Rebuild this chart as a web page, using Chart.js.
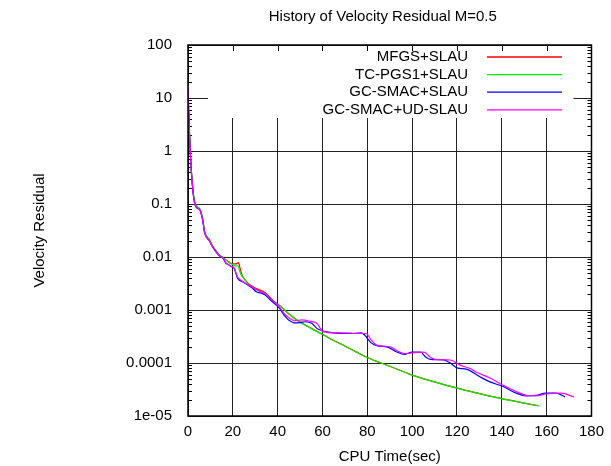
<!DOCTYPE html>
<html>
<head>
<meta charset="utf-8">
<script src="https://cdn.jsdelivr.net/npm/chart.js@4"></script>
<style>
  body { margin: 0; background: #fff; }
</style>
</head>
<body>
<canvas id="residualChart" width="611" height="466"></canvas>

<script>
  // values: CPU time (sec) and velocity residual per scheme
  const mfgsTime = [0, 0.3, 0.7, 1, 1.8, 3, 4.4, 5.2, 5.9, 6.6, 7.4, 9.6, 11, 14, 16, 18, 19.9, 21.5, 22.5, 23.5, 24.3, 27.2, 30, 34.6, 38, 41.9, 45, 49.3, 55, 60.4, 65, 69.9, 75, 80.2, 90, 100, 110, 120, 130, 140, 150, 156];
  const mfgsResidual = [17, 6, 2, 1, 0.28, 0.105, 0.085, 0.08, 0.067, 0.05, 0.03, 0.021, 0.016, 0.011, 0.0095, 0.0082, 0.0074, 0.0074, 0.0078, 0.0055, 0.0044, 0.0031, 0.0026, 0.0021, 0.0015, 0.00112, 0.00085, 0.00062, 0.00045, 0.00034, 0.000265, 0.00021, 0.000162, 0.000126, 0.000087, 0.000059, 0.000044, 0.0000335, 0.0000265, 0.0000212, 0.0000175, 0.0000157];

  const pgsTime = [0, 0.3, 0.7, 1, 1.8, 3, 4.4, 5.2, 5.9, 6.6, 7.4, 9.6, 11, 14, 16, 18, 19.9, 21, 22.1, 23.6, 25, 27.2, 30, 34.6, 38, 41.9, 45, 49.3, 55, 60.4, 65, 69.9, 75, 80.2, 90, 100, 110, 120, 130, 140, 150, 156.5];
  const pgsResidual = [18, 6.5, 2.1, 1.05, 0.29, 0.108, 0.088, 0.082, 0.069, 0.052, 0.031, 0.021, 0.016, 0.0108, 0.0093, 0.008, 0.0072, 0.0068, 0.0068, 0.0047, 0.0039, 0.003, 0.0025, 0.002, 0.00145, 0.0011, 0.00084, 0.00061, 0.00045, 0.00034, 0.000265, 0.00021, 0.000162, 0.000126, 0.000087, 0.000059, 0.000044, 0.0000335, 0.0000265, 0.0000212, 0.0000175, 0.0000155];

  const smacTime = [0, 0.3, 0.7, 1, 1.8, 3, 4.4, 5.2, 5.9, 6.6, 7.4, 9.6, 11, 14, 15.5, 16.9, 18, 19.2, 20.6, 22.1, 24.3, 26, 28.7, 30.5, 32.4, 34.6, 37, 40.5, 43, 44.9, 47.9, 50, 52.3, 55.2, 57.5, 59.6, 65, 69.9, 74, 77.3, 79, 81.7, 84.6, 89, 93.4, 96.4, 100, 103.8, 106, 108.2, 114, 117, 120, 124.4, 130.2, 134.7, 140.6, 146.4, 150.9, 155.3, 159.7, 164.1, 168.2];
  const smacResidual = [15, 5.5, 1.9, 0.95, 0.27, 0.1, 0.082, 0.078, 0.065, 0.048, 0.029, 0.02, 0.0155, 0.0105, 0.0096, 0.0076, 0.0072, 0.0066, 0.0061, 0.004, 0.0034, 0.0031, 0.0026, 0.0022, 0.0021, 0.0019, 0.0015, 0.00112, 0.00078, 0.00065, 0.00057, 0.00058, 0.0006, 0.00056, 0.00045, 0.00041, 0.00037, 0.00036, 0.00036, 0.00037, 0.00033, 0.00024, 0.00021, 0.0002, 0.00016, 0.000145, 0.00016, 0.00016, 0.00013, 0.000117, 0.000114, 0.0001, 0.000081, 0.000076, 0.000055, 0.000044, 0.000036, 0.000027, 0.000024, 0.0000245, 0.000027, 0.000027, 0.000023];

  const udTime = [0, 0.3, 0.7, 1, 1.8, 3, 4.4, 5.2, 5.9, 6.6, 7.4, 9.6, 11, 14, 15.5, 16.9, 19.2, 20.6, 22.1, 24.3, 28.7, 32.4, 34.6, 37, 40.5, 43, 44.9, 47.9, 50.8, 54, 57.4, 60.4, 65, 70, 75, 79.5, 81.5, 83.9, 86, 90.5, 93.4, 96.4, 100, 105.3, 108, 110.4, 117, 121.4, 125.8, 129, 134.7, 140.6, 146.4, 150.9, 155.3, 159.7, 166.3, 172.2];
  const udResidual = [16, 5.8, 2, 1, 0.28, 0.102, 0.084, 0.079, 0.066, 0.049, 0.029, 0.02, 0.0155, 0.0105, 0.0097, 0.0078, 0.0067, 0.0062, 0.0042, 0.0035, 0.0027, 0.0022, 0.002, 0.0016, 0.00118, 0.00085, 0.00072, 0.00063, 0.00065, 0.00062, 0.00056, 0.00039, 0.00037, 0.00037, 0.00036, 0.00036, 0.00028, 0.00022, 0.00021, 0.0002, 0.00017, 0.00015, 0.000155, 0.00016, 0.00013, 0.000117, 0.000114, 0.000091, 0.000079, 0.000066, 0.000052, 0.000038, 0.000029, 0.0000245, 0.000024, 0.000026, 0.000027, 0.000023];

  const seriesNames = ['MFGS+SLAU', 'TC-PGS1+SLAU', 'GC-SMAC+SLAU', 'GC-SMAC+UD-SLAU'];
  const seriesColors = ['#ff0000', '#00ee00', '#0000ff', '#ff00ff'];

  const yTickValues = [1e-5, 1e-4, 1e-3, 1e-2, 1e-1, 1, 10, 100];
  const yTickLabels = ['1e-05', '0.0001', '0.001', '0.01', '0.1', '1', '10', '100'];

  const chartTitle = 'History of Velocity Residual M=0.5';

  const textFont = {family: '"Liberation Sans", Arial, sans-serif', size: 15};
  const gridColor = '#222';

  function toPoints(times, values) {
    return times.map((t, i) => ({x: t, y: values[i]}));
  }

  // gnuplot look: key box hiding the grid, mirror ticks, minor log ticks, frame, title
  const gnuplotDecor = {
    id: 'gnuplotDecor',
    beforeDatasetsDraw(chart) {
      const {ctx, chartArea: a, scales} = chart;
      ctx.save();
      ctx.fillStyle = '#fff';
      ctx.fillRect(a.left + 20, a.top + 1, a.right - a.left - 38, 72);

      ctx.strokeStyle = '#000';
      ctx.lineWidth = 1;
      ctx.beginPath();
      scales.x.ticks.forEach((tk) => {
        const px = Math.round(scales.x.getPixelForValue(tk.value)) + 0.5;
        ctx.moveTo(px, a.top);
        ctx.lineTo(px, a.top + 6);
      });
      for (let d = -5; d < 2; d++) {
        for (let k = 2; k <= 9; k++) {
          const py = Math.round(scales.y.getPixelForValue(k * Math.pow(10, d))) + 0.5;
          ctx.moveTo(a.left, py);
          ctx.lineTo(a.left + 4, py);
          ctx.moveTo(a.right - 4, py);
          ctx.lineTo(a.right, py);
        }
      }
      ctx.stroke();
      ctx.restore();
    },
    afterDatasetsDraw(chart) {
      const {ctx, chartArea: a} = chart;
      ctx.save();
      ctx.strokeStyle = '#000';
      ctx.lineWidth = 1.5;
      ctx.strokeRect(a.left, a.top, a.right - a.left, a.bottom - a.top);

      ctx.font = '15px "Liberation Sans", Arial, sans-serif';
      ctx.fillStyle = '#000';
      ctx.textBaseline = 'middle';
      ctx.textAlign = 'right';
      seriesNames.forEach((name, i) => {
        const y = a.top + 12 + i * 17.6;
        ctx.fillText(name, a.left + 280, y);
        ctx.strokeStyle = seriesColors[i];
        ctx.lineWidth = 1.3;
        ctx.beginPath();
        ctx.moveTo(a.left + 299, y);
        ctx.lineTo(a.left + 374, y);
        ctx.stroke();
      });

      ctx.textAlign = 'center';
      ctx.fillText(chartTitle, (a.left + a.right) / 2 - 7, 17);
      ctx.restore();
    }
  };

  const datasets = [
    [mfgsTime, mfgsResidual],
    [pgsTime, pgsResidual],
    [smacTime, smacResidual],
    [udTime, udResidual]
  ].map((s, i) => ({
    label: seriesNames[i],
    data: toPoints(s[0], s[1]),
    borderColor: seriesColors[i],
    backgroundColor: seriesColors[i],
    borderWidth: 1.2,
    pointRadius: 0,
    fill: false,
    cubicInterpolationMode: 'monotone',
    order: 4 - i
  }));

  new Chart(document.getElementById('residualChart'), {
    type: 'line',
    data: {datasets: datasets},
    plugins: [gnuplotDecor],
    options: {
      responsive: false,
      animation: false,
      layout: {padding: {top: 45, right: 15, left: 0, bottom: 0}},
      scales: {
        x: {
          type: 'linear',
          min: 0,
          max: 180,
          afterFit(scale) { scale.height = 50; },
          ticks: {stepSize: 20, padding: 7, maxRotation: 0, color: '#000', font: textFont},
          grid: {color: gridColor, drawTicks: false},
          border: {display: false},
          title: {display: true, text: 'CPU Time(sec)', color: '#000', font: textFont, padding: {top: 0, bottom: 0}}
        },
        y: {
          type: 'logarithmic',
          min: 1e-5,
          max: 100,
          afterBuildTicks(scale) {
            scale.ticks = yTickValues.map((v) => ({value: v}));
          },
          afterFit(scale) { scale.width = 188; },
          ticks: {
            padding: 16,
            autoSkip: false,
            color: '#000',
            font: textFont,
            callback: (value, index) => yTickLabels[index]
          },
          grid: {color: gridColor, drawTicks: false},
          border: {display: false},
          title: {display: true, text: 'Velocity Residual', color: '#000', font: textFont, padding: {top: 31, bottom: 0}}
        }
      },
      plugins: {
        legend: {display: false},
        tooltip: {enabled: false}
      }
    }
  });
</script>
</body>
</html>
